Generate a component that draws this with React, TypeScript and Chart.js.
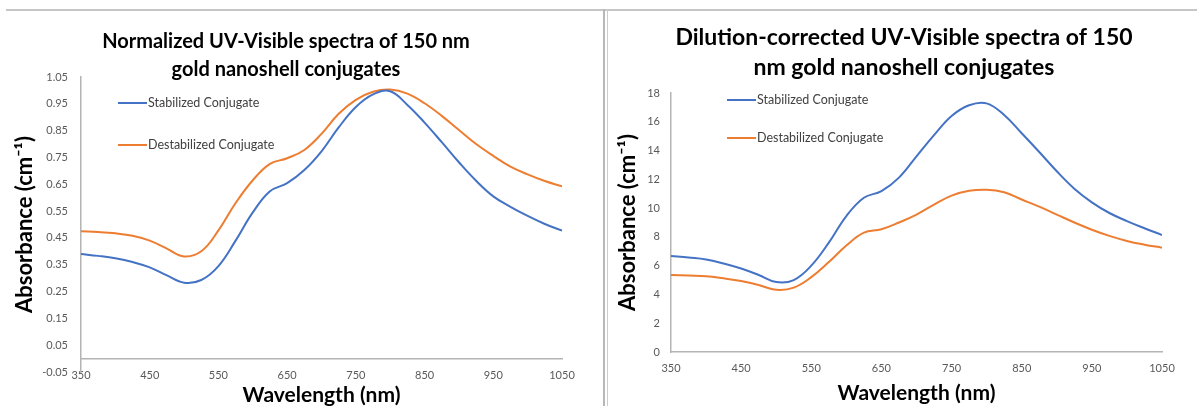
import React, { useEffect, useRef } from 'react';
import { Chart, registerables } from 'chart.js';

Chart.register(...registerables);

// ---------- data ----------
const wavelengths = [350, 375, 400, 425, 450, 475, 500, 525, 550, 575, 600, 625, 650, 675, 700, 725, 750, 775, 800, 825, 850, 875, 900, 925, 950, 975, 1000, 1025, 1050];

const normStabilized = [0.390, 0.383, 0.374, 0.360, 0.340, 0.310, 0.283, 0.293, 0.345, 0.440, 0.545, 0.624, 0.654, 0.703, 0.773, 0.862, 0.938, 0.985, 0.997, 0.946, 0.880, 0.807, 0.732, 0.663, 0.605, 0.566, 0.532, 0.502, 0.477];
const normDestabilized = [0.475, 0.472, 0.467, 0.458, 0.440, 0.410, 0.381, 0.400, 0.478, 0.580, 0.665, 0.726, 0.747, 0.778, 0.838, 0.913, 0.965, 0.995, 1.003, 0.988, 0.952, 0.905, 0.852, 0.800, 0.756, 0.716, 0.687, 0.662, 0.642];

const dilStabilized = [6.67, 6.56, 6.43, 6.15, 5.80, 5.35, 4.86, 5.00, 6.00, 7.60, 9.45, 10.72, 11.18, 12.12, 13.60, 15.07, 16.40, 17.15, 17.28, 16.47, 15.20, 13.90, 12.56, 11.35, 10.40, 9.66, 9.10, 8.60, 8.13];
const dilDestabilized = [5.35, 5.31, 5.27, 5.12, 4.93, 4.66, 4.32, 4.47, 5.20, 6.25, 7.40, 8.30, 8.53, 9.00, 9.55, 10.25, 10.87, 11.20, 11.28, 11.10, 10.60, 10.10, 9.55, 9.00, 8.50, 8.07, 7.72, 7.46, 7.25];

const seriesLabels = ['Stabilized Conjugate', 'Destabilized Conjugate'];
const seriesColors = ['#4472C4', '#ED7D31'];

const normTitle = ['Normalized UV-Visible spectra of 150 nm', 'gold nanoshell conjugates'];
const dilTitle = ['Dilution-corrected UV-Visible spectra of 150', 'nm gold nanoshell conjugates'];
const xAxisTitle = 'Wavelength (nm)';
const yAxisTitle = 'Absorbance (cm\u207B\u00B9)';

const xRange = { min: 350, max: 1050, step: 100 };
const normYRange = { min: -0.05, max: 1.05, step: 0.1, decimals: 2 };
const dilYRange = { min: 0, max: 18, step: 2, decimals: 0 };

// ---------- helpers ----------
const FONT = 'Lato, "Open Sans", sans-serif';
const AXIS_GRAY = '#b4b4b4';
const TEXT_GRAY = '#595959';

const insideLegend = {
  id: 'insideLegend',
  afterDatasetsDraw(chart: any, _args: any, opts: any) {
    const { ctx, chartArea } = chart;
    ctx.save();
    chart.data.datasets.forEach((ds: any, i: number) => {
      const x = chartArea.left + opts.x;
      const y = chartArea.top + opts.ys[i];
      ctx.strokeStyle = ds.borderColor;
      ctx.lineWidth = 2;
      ctx.beginPath();
      ctx.moveTo(x, y);
      ctx.lineTo(x + opts.lineLength, y);
      ctx.stroke();
      ctx.fillStyle = opts.color;
      ctx.font = opts.font;
      ctx.textBaseline = 'middle';
      ctx.textAlign = 'left';
      ctx.fillText(ds.label, x + opts.lineLength + 1, y);
    });
    ctx.restore();
  },
};

function toPoints(values: number[]) {
  return wavelengths.map((w, i) => ({ x: w, y: values[i] }));
}

type Cfg = {
  title: string[];
  titleSize: number;
  titleLine: number;
  titlePad: { top: number; bottom: number };
  series: number[][];
  yRange: { min: number; max: number; step: number; decimals: number };
  padLeft: number;
  padRight: number;
  yWidth: number;
  yLabelPad: number;
  yTitlePad: number;
  xTitleHeight: number;
  xTitlePad: number;
  legend: { x: number; ys: number[] };
};

function buildConfig(c: Cfg): any {
  return {
    type: 'line',
    data: {
      datasets: c.series.map((vals, i) => ({
        label: seriesLabels[i],
        data: toPoints(vals),
        borderColor: seriesColors[i],
        backgroundColor: seriesColors[i],
        borderWidth: 2,
        pointRadius: 0,
        tension: 0.4,
        fill: false,
      })),
    },
    options: {
      responsive: false,
      animation: false,
      layout: { padding: { top: 0, left: c.padLeft, right: c.padRight, bottom: 0 } },
      plugins: {
        legend: { display: false },
        tooltip: { enabled: false },
        title: {
          display: true,
          text: c.title,
          color: '#000000',
          font: { family: FONT, size: c.titleSize, weight: 'bold', lineHeight: c.titleLine + 'px' },
          padding: c.titlePad,
        },
        insideLegend: {
          x: c.legend.x,
          ys: c.legend.ys,
          lineLength: 29,
          color: '#404040',
          font: '12.5px ' + FONT,
        },
      },
      scales: {
        x: {
          type: 'linear',
          position: { y: 0 },
          min: xRange.min,
          max: xRange.max,
          ticks: {
            stepSize: xRange.step,
            padding: 10,
            color: TEXT_GRAY,
            font: { family: FONT, size: 11 },
            maxRotation: 0,
            callback: (v: number) => String(v),
          },
          grid: { display: true, drawOnChartArea: false, drawTicks: false },
          border: { display: true, color: AXIS_GRAY, width: 1.5 },
          title: { display: false },
        },
        x2: {
          type: 'linear',
          position: 'bottom',
          min: 0,
          max: 1,
          ticks: { display: false },
          grid: { display: false, drawTicks: false },
          border: { display: false },
          title: {
            display: true,
            text: xAxisTitle,
            color: '#000000',
            font: { family: FONT, size: 21, weight: 'bold', lineHeight: 1 },
            padding: { top: 0, bottom: c.xTitlePad },
          },
          afterFit: (s: any) => {
            s.height = c.xTitleHeight;
          },
        },
        y: {
          type: 'linear',
          position: 'left',
          min: c.yRange.min,
          max: c.yRange.max,
          ticks: {
            stepSize: c.yRange.step,
            padding: c.yLabelPad,
            color: TEXT_GRAY,
            font: { family: FONT, size: 11 },
            callback: (v: number) => Number(v).toFixed(c.yRange.decimals),
          },
          grid: { display: false, drawTicks: false },
          border: { display: true, color: AXIS_GRAY, width: 1.5 },
          title: {
            display: true,
            text: yAxisTitle,
            color: '#000000',
            font: { family: FONT, size: 22, weight: 'bold', lineHeight: 1 },
            padding: { top: c.yTitlePad, bottom: 0 },
          },
          afterFit: (s: any) => {
            s.width = c.yWidth;
          },
        },
      },
    },
    plugins: [insideLegend],
  };
}

const leftCfg: Cfg = {
  title: normTitle,
  titleSize: 20,
  titleLine: 28,
  titlePad: { top: 28, bottom: -7 },
  series: [normStabilized, normDestabilized],
  yRange: normYRange,
  padLeft: 10,
  padRight: 41,
  yWidth: 71,
  yLabelPad: 13,
  yTitlePad: 4,
  xTitleHeight: 34,
  xTitlePad: 0,
  legend: { x: 37, ys: [26, 68] },
};

const rightCfg: Cfg = {
  title: dilTitle,
  titleSize: 23,
  titleLine: 30,
  titlePad: { top: 23, bottom: 10 },
  series: [dilStabilized, dilDestabilized],
  yRange: dilYRange,
  padLeft: 38,
  padRight: 35,
  yWidth: 25,
  yLabelPad: 11,
  yTitlePad: -29,
  xTitleHeight: 54,
  xTitlePad: 2,
  legend: { x: 56, ys: [7, 45] },
};

function ChartCanvas({ cfg, left, width }: { cfg: Cfg; left: number; width: number }) {
  const ref = useRef<HTMLCanvasElement | null>(null);
  useEffect(() => {
    if (!ref.current) return;
    const chart = new Chart(ref.current, buildConfig(cfg));
    return () => chart.destroy();
  }, [cfg]);
  return (
    <canvas
      ref={ref}
      width={width}
      height={406}
      style={{ position: 'absolute', left, top: 0, width, height: 406 }}
    />
  );
}

export default function App() {
  return (
    <div
      style={{
        position: 'absolute',
        left: 0,
        top: 0,
        width: 1197,
        height: 406,
        background: '#ffffff',
        overflow: 'hidden',
      }}
    >
      <ChartCanvas cfg={leftCfg} left={0} width={603} />
      <ChartCanvas cfg={rightCfg} left={608} width={589} />
      <div style={{ position: 'absolute', left: 6, top: 9, width: 1191, height: 2, background: '#c6c6c6' }} />
      <div style={{ position: 'absolute', left: 603, top: 9, width: 2, height: 397, background: '#b8b8b8' }} />
      <div style={{ position: 'absolute', left: 607, top: 9, width: 1, height: 397, background: '#cdcdcd' }} />
    </div>
  );
}
